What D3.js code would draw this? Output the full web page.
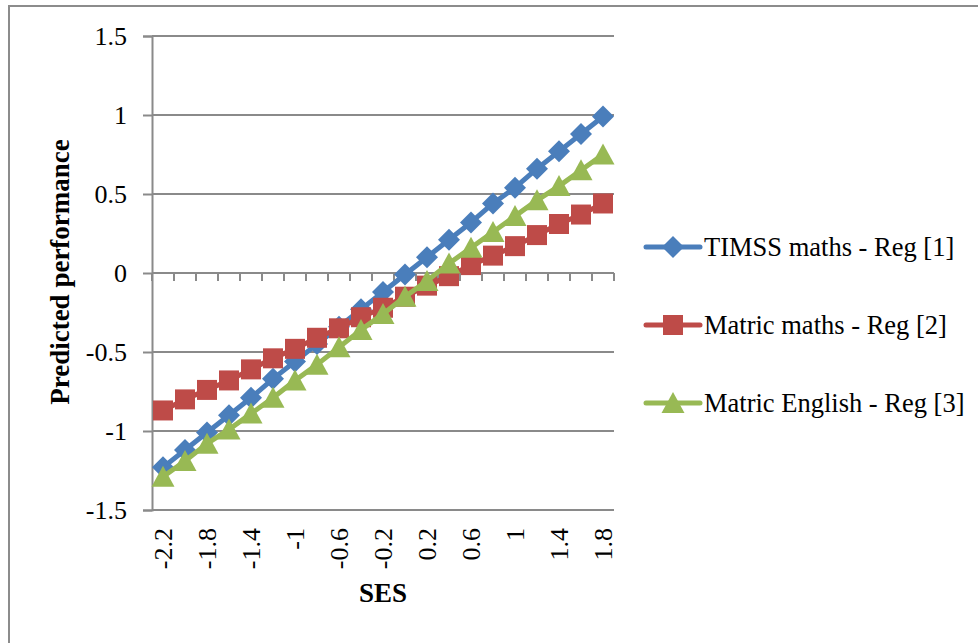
<!DOCTYPE html>
<html>
<head>
<meta charset="utf-8">
<script src="https://cdn.jsdelivr.net/npm/d3@7/dist/d3.min.js"></script>
<style>
  html, body { margin: 0; padding: 0; background: #fff; }
  svg { display: block; }
  text { font-family: "Liberation Serif", "DejaVu Serif", serif; fill: #000; }
</style>
</head>
<body>
<svg id="chart" width="978" height="643"></svg>
<script>
// SES categories on the horizontal axis
const categories = ["-2.2", "-2", "-1.8", "-1.6", "-1.4", "-1.2", "-1", "-0.8", "-0.6", "-0.4",
  "-0.2", "0", "0.2", "0.4", "0.6", "0.8", "1", "1.2", "1.4", "1.6", "1.8"];
// Labels shown under the axis (every second category)
const xTickLabels = ["-2.2", "-1.8", "-1.4", "-1", "-0.6", "-0.2", "0.2", "0.6", "1", "1.4", "1.8"];
const yTicks = [-1.5, -1, -0.5, 0, 0.5, 1, 1.5];

// Predicted performance by SES for each regression
const timssMaths = [-1.23, -1.12, -1.01, -0.90, -0.79, -0.67, -0.56, -0.45, -0.34, -0.23,
  -0.12, -0.01, 0.10, 0.21, 0.32, 0.44, 0.54, 0.66, 0.77, 0.88, 0.99];
const matricMaths = [-0.87, -0.80, -0.74, -0.68, -0.61, -0.54, -0.48, -0.41, -0.35, -0.28,
  -0.22, -0.15, -0.08, -0.02, 0.05, 0.11, 0.17, 0.24, 0.31, 0.37, 0.44];
const matricEnglish = [-1.29, -1.19, -1.08, -0.99, -0.89, -0.79, -0.68, -0.58, -0.47, -0.36,
  -0.26, -0.15, -0.05, 0.06, 0.16, 0.26, 0.36, 0.46, 0.55, 0.65, 0.75];

const seriesNames = ["TIMSS maths - Reg [1]", "Matric maths - Reg [2]", "Matric English - Reg [3]"];
const seriesColors = ["#4A7EBB", "#BE4B48", "#98B954"];
const seriesShapes = ["diamond", "square", "triangle"];
const seriesValues = [timssMaths, matricMaths, matricEnglish];

const series = seriesNames.map((name, i) => ({
  name, color: seriesColors[i], shape: seriesShapes[i], values: seriesValues[i]
}));

const svg = d3.select("#chart");
const plotLeft = 152, plotRight = 614, plotTop = 36, plotBottom = 510;
const axisGrey = "#8a8a8a";
const serif = '"Liberation Serif", "DejaVu Serif", serif';

// outer chart frame
svg.append("rect")
  .attr("x", 9).attr("y", 6).attr("width", 1000).attr("height", 700)
  .attr("fill", "none").attr("stroke", "#8c8c8c").attr("stroke-width", 2);

const x = d3.scaleBand().domain(categories).range([plotLeft, plotRight]).paddingInner(0).paddingOuter(0);
const y = d3.scaleLinear().domain([-1.5, 1.5]).range([plotBottom, plotTop]);

// horizontal gridlines
svg.append("g").selectAll("line").data(yTicks).join("line")
  .attr("x1", plotLeft).attr("x2", plotRight)
  .attr("y1", d => y(d)).attr("y2", d => y(d))
  .attr("stroke", axisGrey).attr("stroke-width", 2);

// value axis with outward ticks (plain hyphen for negatives)
const yAxis = svg.append("g")
  .attr("transform", `translate(${plotLeft},0)`)
  .call(d3.axisLeft(y).tickValues(yTicks).tickSize(9).tickPadding(16)
    .tickFormat(d => String(d)));
yAxis.attr("font-family", serif).attr("font-size", 26);
yAxis.select(".domain").attr("stroke", axisGrey).attr("stroke-width", 2);
yAxis.selectAll(".tick line").attr("stroke", axisGrey).attr("stroke-width", 2);
yAxis.selectAll(".tick text").attr("fill", "#000");

// category axis crossing at zero, ticks between categories
const boundaries = d3.range(categories.length + 1).map(i => plotLeft + i * x.bandwidth());
svg.append("g").selectAll("line").data(boundaries).join("line")
  .attr("x1", d => d).attr("x2", d => d)
  .attr("y1", y(0)).attr("y2", y(0) + 8)
  .attr("stroke", axisGrey).attr("stroke-width", 2);
svg.append("line")
  .attr("x1", plotLeft).attr("x2", plotRight).attr("y1", y(0)).attr("y2", y(0))
  .attr("stroke", axisGrey).attr("stroke-width", 2);

// rotated category labels below the plot
svg.append("g").selectAll("text").data(xTickLabels).join("text")
  .attr("transform", d => `translate(${x(d) + x.bandwidth() / 2},528) rotate(-90)`)
  .attr("text-anchor", "end")
  .attr("dy", "0.35em")
  .style("font-size", "26px")
  .text(d => d);

// axis titles
svg.append("text")
  .attr("x", (plotLeft + plotRight) / 2).attr("y", 602)
  .attr("text-anchor", "middle")
  .style("font-size", "27px").style("font-weight", "bold")
  .text("SES");
svg.append("text")
  .attr("transform", "translate(60,272) rotate(-90)")
  .attr("text-anchor", "middle")
  .attr("dy", "0.35em")
  .style("font-size", "27px").style("font-weight", "bold")
  .text("Predicted performance");

// marker shapes
function markerPath(shape) {
  if (shape === "diamond") return "M0,-11L11,0L0,11L-11,0Z";
  if (shape === "square") return "M-10,-10H10V10H-10Z";
  return "M0,-11L11.5,10L-11.5,10Z";
}

const line = d3.line()
  .x((d, i) => x(categories[i]) + x.bandwidth() / 2)
  .y(d => y(d));

const plot = svg.append("g");
series.forEach(s => {
  const g = plot.append("g");
  g.append("path").datum(s.values)
    .attr("d", line)
    .attr("fill", "none").attr("stroke", s.color).attr("stroke-width", 5)
    .attr("stroke-linejoin", "round");
  g.selectAll("path.m").data(s.values).join("path")
    .attr("class", "m")
    .attr("transform", (d, i) => `translate(${x(categories[i]) + x.bandwidth() / 2},${y(d)})`)
    .attr("d", markerPath(s.shape))
    .attr("fill", s.color);
});

// legend
const legendRows = [247, 325, 403];
const legend = svg.append("g");
series.forEach((s, i) => {
  const row = legend.append("g").attr("transform", `translate(0,${legendRows[i]})`);
  row.append("line").attr("x1", 646).attr("x2", 700).attr("y1", 0).attr("y2", 0)
    .attr("stroke", s.color).attr("stroke-width", 5).attr("stroke-linecap", "round");
  row.append("path").attr("transform", "translate(673,0)")
    .attr("d", markerPath(s.shape)).attr("fill", s.color);
  row.append("text").attr("x", 704).attr("y", 0).attr("dy", "0.35em")
    .style("font-size", "26.5px").text(s.name);
});
</script>
</body>
</html>
